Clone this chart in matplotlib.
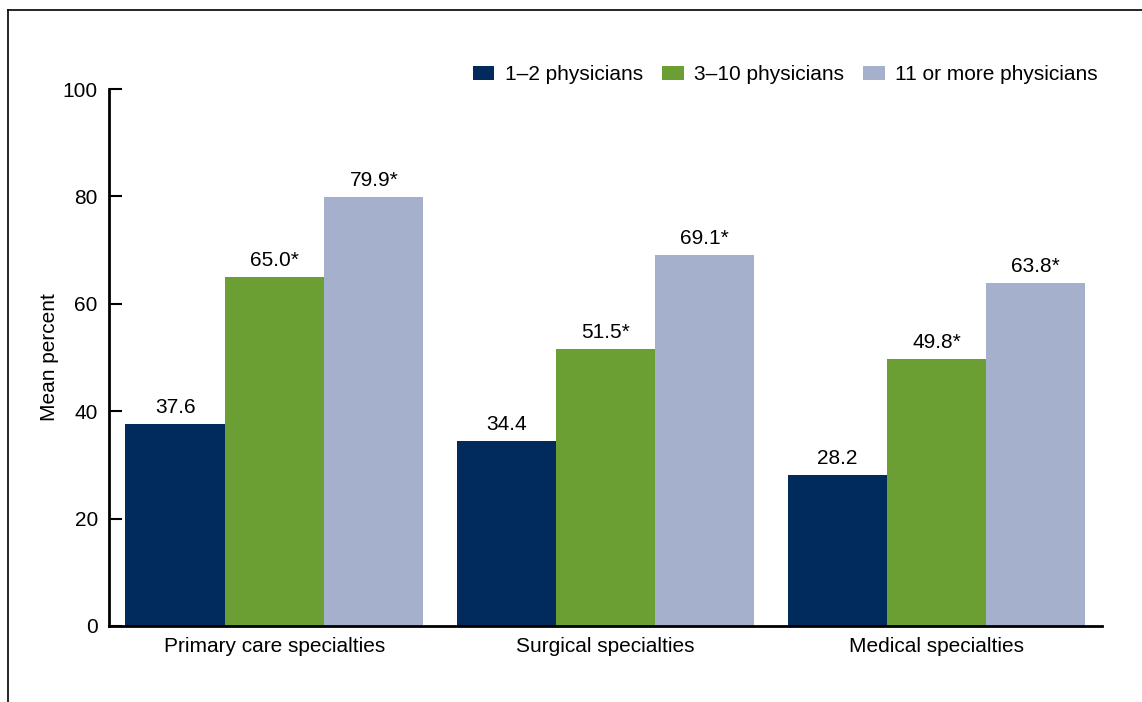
import numpy as np
import matplotlib.pyplot as plt
from matplotlib.lines import Line2D

plt.rcParams['font.family'] = ['Liberation Sans', 'DejaVu Sans']

categories = ['Primary care specialties', 'Surgical specialties', 'Medical specialties']
series_names = ['1\u20132 physicians', '3\u201310 physicians', '11 or more physicians']
small = [37.6, 34.4, 28.2]
medium = [65.0, 51.5, 49.8]
large = [79.9, 69.1, 63.8]
small_lbl = ['37.6', '34.4', '28.2']
medium_lbl = ['65.0*', '51.5*', '49.8*']
large_lbl = ['79.9*', '69.1*', '63.8*']

colors = ['#002B5C', '#6B9E33', '#A5B1CC']
fs = 15

fig = plt.figure(figsize=(11.42, 7.02), dpi=100)
ax = fig.add_axes([0.0954, 0.1083, 0.8696, 0.7649])

x = np.arange(len(categories))
w = 0.3
data = [small, medium, large]
labels = [small_lbl, medium_lbl, large_lbl]
for i in range(3):
    bars = ax.bar(x + (i - 1) * w, data[i], w, color=colors[i], label=series_names[i])
    ax.bar_label(bars, labels=labels[i], padding=5, fontsize=fs)

ax.set_xlim(-0.5, 2.5)
ax.set_ylim(0, 100)
ax.set_yticks([0, 20, 40, 60, 80, 100])
ax.set_xticks(x)
ax.set_xticklabels(categories, fontsize=fs)
ax.tick_params(axis='y', direction='in', length=9, width=1.5, labelsize=fs, pad=8)
ax.tick_params(axis='x', length=0, pad=8)
ax.spines['top'].set_visible(False)
ax.spines['right'].set_visible(False)
ax.spines['left'].set_linewidth(2)
ax.spines['bottom'].set_linewidth(2)
ax.set_ylabel('Mean percent', fontsize=fs, labelpad=3)

ax.legend(loc='lower right', bbox_to_anchor=(1.004, 0.993), ncol=3, frameon=False,
          fontsize=fs, handlelength=1.05, handleheight=0.7, handletextpad=0.5,
          columnspacing=0.9, borderaxespad=0)

# outer frame (top and left)
fig.add_artist(Line2D([8 / 1142, 1], [1 - 10 / 702, 1 - 10 / 702], color='black', lw=1.2))
fig.add_artist(Line2D([8 / 1142, 8 / 1142], [0, 1 - 10 / 702], color='black', lw=1.2))

fig.savefig('out.png', dpi=100)
